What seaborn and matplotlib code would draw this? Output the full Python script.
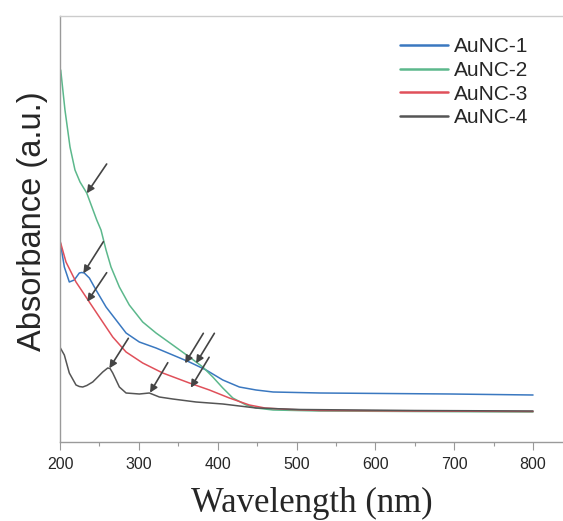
import numpy as np
import pandas as pd
import matplotlib
matplotlib.use("Agg")
import matplotlib.pyplot as plt
import seaborn as sns

# UV-vis absorption spectra of the four gold nanocluster samples
series_names = ["AuNC-1", "AuNC-2", "AuNC-3", "AuNC-4"]

wl_1 = [200.5, 205.5, 211.8, 218.1, 224.5, 227.5, 230.8, 237.2, 245.7, 258.4, 271.1,
        283.8, 300.6, 321.8, 343.0, 364.1, 385.3, 406.5, 427.5, 448.7, 470.3, 530,
        695, 800]
abs_1 = [1.99, 1.75, 1.60, 1.62, 1.69, 1.695, 1.69, 1.64, 1.52, 1.35, 1.22,
         1.09, 1.00, 0.94, 0.87, 0.80, 0.72, 0.62, 0.55, 0.52, 0.50, 0.49,
         0.48, 0.47]

wl_2 = [200.9, 206.3, 212.7, 219.0, 225.4, 233.9, 246.6, 252.0, 258.4, 264.7, 275.3,
        287.9, 304.9, 321.8, 343.0, 364.1, 381.1, 393.8, 406.5, 419.2, 436.0, 448.7,
        470.3, 530, 650, 800]
abs_2 = [3.72, 3.32, 2.95, 2.72, 2.60, 2.49, 2.22, 2.12, 1.92, 1.75, 1.55,
         1.37, 1.20, 1.09, 0.97, 0.85, 0.75, 0.65, 0.54, 0.44, 0.37, 0.34,
         0.32, 0.31, 0.305, 0.30]

wl_3 = [200.5, 207.6, 220.3, 237.2, 249.9, 266.9, 283.8, 304.9, 330.3, 364.1, 389.5,
        414.8, 440.2, 460, 492, 530, 650, 800]
abs_3 = [2.00, 1.80, 1.60, 1.40, 1.25, 1.05, 0.90, 0.79, 0.69, 0.59, 0.52,
         0.44, 0.37, 0.34, 0.325, 0.315, 0.31, 0.305]

wl_4 = [200.5, 205.5, 211.8, 220.3, 224.5, 228.8, 234.0, 241.5, 254.2, 260.5, 263.5,
        266.9, 275.3, 283.8, 300.6, 313.3, 326.0, 343.0, 372.6, 406.5, 448.7, 504.6,
        650, 800]
abs_4 = [0.94, 0.87, 0.69, 0.57, 0.555, 0.55, 0.565, 0.60, 0.70, 0.74, 0.735,
         0.69, 0.55, 0.49, 0.48, 0.49, 0.45, 0.43, 0.40, 0.38, 0.34, 0.325,
         0.315, 0.31]

x_ticks = [200, 300, 400, 500, 600, 700, 800]

# arrows marking absorption features: tip and tail positions in data units
arrow_tips_wl = [234.0, 229.6, 234.6, 262.6, 314.2, 358.6, 372.6, 365.9]
arrow_tips_abs = [2.487, 1.687, 1.403, 0.737, 0.493, 0.787, 0.787, 0.543]
arrow_tails_wl = [259.2, 255.0, 259.2, 286.7, 336.7, 381.8, 395.8, 389.1]
arrow_tails_abs = [2.78, 2.003, 1.693, 1.037, 0.793, 1.087, 1.087, 0.847]

colors = {"AuNC-1": "#3a78c0", "AuNC-2": "#5cb88c", "AuNC-3": "#e0505a", "AuNC-4": "#555555"}

frames = []
for name, wl, ab in zip(series_names, [wl_1, wl_2, wl_3, wl_4], [abs_1, abs_2, abs_3, abs_4]):
    frames.append(pd.DataFrame({"Wavelength": wl, "Absorbance": ab, "Sample": name}))
df = pd.concat(frames, ignore_index=True)

sns.set_style("white")
plt.rcParams["font.family"] = ["Liberation Sans", "DejaVu Sans"]

fig = plt.figure(figsize=(5.63, 5.21), dpi=100)
ax = fig.add_axes([60 / 563, 79 / 521, 503 / 563, 426 / 521])

sns.lineplot(data=df, x="Wavelength", y="Absorbance", hue="Sample", palette=colors,
             hue_order=series_names, linewidth=1.1, sort=False, estimator=None,
             ax=ax, legend=False)
for line in ax.get_lines():
    line.set_solid_joinstyle("round")

for tx, ty, sx, sy in zip(arrow_tips_wl, arrow_tips_abs, arrow_tails_wl, arrow_tails_abs):
    ax.annotate("", xy=(tx, ty), xytext=(sx, sy),
                arrowprops=dict(arrowstyle="-|>", color="#444444", lw=1.2,
                                mutation_scale=11, shrinkA=0, shrinkB=0))

ax.set_xlim(200, 838)
ax.set_ylim(0, 4.26)
ax.set_xticks(x_ticks)
ax.set_xticks([250, 350, 450, 550, 650, 750], minor=True)
ax.set_yticks([])
ax.tick_params(axis="x", which="major", direction="out", length=6, width=0.8,
               color="#999999", labelsize=11.5, pad=5, bottom=True)
ax.tick_params(axis="x", which="minor", direction="out", length=3, width=0.8,
               color="#999999", bottom=True)

for side in ["left", "bottom"]:
    ax.spines[side].set_color("#9a9a9a")
    ax.spines[side].set_linewidth(1.0)
ax.spines["top"].set_color("#cccccc")
ax.spines["top"].set_linewidth(1.0)
ax.spines["right"].set_visible(False)

ax.set_xlabel("Wavelength (nm)", family=["Liberation Serif", "DejaVu Serif"],
              fontsize=25, labelpad=10.5)
ax.set_ylabel("Absorbance (a.u.)", fontsize=23.5)
ax.yaxis.set_label_coords(-0.024, 0.519)

handles = [plt.Line2D([], [], color=colors[n], lw=1.8) for n in series_names]
ax.legend(handles, series_names, loc="upper left", bbox_to_anchor=(400 / 563, 1 - 37.5 / 521),
          bbox_transform=fig.transFigure, frameon=False, fontsize=15,
          handlelength=2.3, handletextpad=0.3, labelspacing=0.22,
          borderpad=0, borderaxespad=0)

fig.savefig("out.png", dpi=100)
